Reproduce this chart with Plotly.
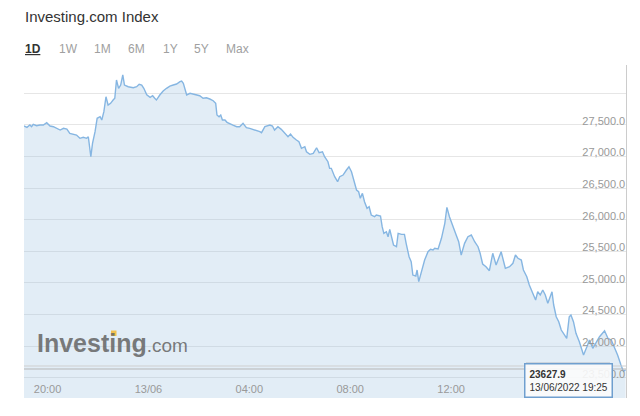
import pandas as pd
import plotly.graph_objects as go

# ---- data ----
times = [
    "12 19:04", "12 19:11", "12 19:18", "12 19:22", "12 19:26", "12 19:34", "12 19:42", "12 19:50",
    "12 19:58", "12 20:06", "12 20:14", "12 20:22", "12 20:30", "12 20:38", "12 20:46", "12 20:53",
    "12 21:01", "12 21:09", "12 21:17", "12 21:25", "12 21:33", "12 21:37", "12 21:43", "12 21:47",
    "12 21:53", "12 21:58", "12 22:05", "12 22:09", "12 22:14", "12 22:19", "12 22:24", "12 22:30",
    "12 22:36", "12 22:40", "12 22:44", "12 22:49", "12 22:54", "12 22:59", "12 23:03", "12 23:12",
    "12 23:24", "12 23:32", "12 23:38", "12 23:44", "12 23:49", "12 23:56",
    "13 00:04", "13 00:10", "13 00:15", "13 00:19", "13 00:27", "13 00:35", "13 00:43", "13 00:51",
    "13 00:59", "13 01:07", "13 01:15", "13 01:19", "13 01:23", "13 01:31", "13 01:39", "13 01:46",
    "13 01:54", "13 02:02", "13 02:10", "13 02:18", "13 02:26", "13 02:34", "13 02:40", "13 02:43",
    "13 02:48", "13 02:52", "13 02:56", "13 03:02", "13 03:07", "13 03:14", "13 03:21", "13 03:30",
    "13 03:37", "13 03:45", "13 03:53", "13 04:01", "13 04:09", "13 04:17", "13 04:25", "13 04:29",
    "13 04:37", "13 04:49", "13 04:55", "13 05:00", "13 05:08", "13 05:16", "13 05:24", "13 05:32",
    "13 05:38", "13 05:44", "13 05:52", "13 05:58", "13 06:04", "13 06:12", "13 06:16", "13 06:24",
    "13 06:32", "13 06:40", "13 06:46", "13 06:54", "13 06:59", "13 07:07", "13 07:11", "13 07:15",
    "13 07:23", "13 07:30", "13 07:35", "13 07:43", "13 07:51", "13 07:57", "13 08:03", "13 08:08",
    "13 08:15", "13 08:20", "13 08:24", "13 08:29", "13 08:34", "13 08:40", "13 08:45", "13 08:50",
    "13 08:58", "13 09:02", "13 09:08", "13 09:12", "13 09:16", "13 09:20", "13 09:26", "13 09:30",
    "13 09:34", "13 09:38", "13 09:43", "13 09:50", "13 09:54", "13 10:02", "13 10:09", "13 10:13",
    "13 10:20", "13 10:25", "13 10:29", "13 10:36", "13 10:39", "13 10:43", "13 10:49", "13 10:57",
    "13 11:05", "13 11:11", "13 11:17", "13 11:21", "13 11:29", "13 11:37", "13 11:45", "13 11:50",
    "13 11:56", "13 12:04", "13 12:12", "13 12:18", "13 12:24", "13 12:32", "13 12:40", "13 12:48",
    "13 12:56", "13 13:04", "13 13:09", "13 13:15", "13 13:23", "13 13:31", "13 13:39", "13 13:47",
    "13 13:53", "13 13:59", "13 14:09", "13 14:19", "13 14:27", "13 14:33", "13 14:39", "13 14:47",
    "13 14:52", "13 15:00", "13 15:06", "13 15:14", "13 15:21", "13 15:26", "13 15:32", "13 15:38",
    "13 15:44", "13 15:50", "13 15:56", "13 16:00", "13 16:04", "13 16:10", "13 16:16", "13 16:22",
    "13 16:30", "13 16:35", "13 16:41", "13 16:45", "13 16:51", "13 16:57", "13 17:05", "13 17:15",
    "13 17:23", "13 17:29", "13 17:37", "13 17:45", "13 17:53", "13 18:05", "13 18:13", "13 18:21",
    "13 18:28", "13 18:36", "13 18:44", "13 18:50", "13 18:55",
]
values = [
    27483, 27462, 27498, 27472, 27510, 27487, 27498, 27498,
    27535, 27483, 27472, 27446, 27419, 27446, 27435, 27367,
    27351, 27340, 27288, 27304, 27288, 27313, 26997, 27209,
    27393, 27605, 27630, 27578, 27709, 27946, 27815, 27842,
    27894, 27921, 28210, 28079, 28131, 28290, 28131, 28104,
    28089, 28104, 28142, 28131, 28079, 27975,
    27937, 27962, 27921, 27894, 27973, 28036, 28079, 28115,
    28131, 28147, 28184, 28195, 28158, 27975, 28000, 27989,
    27973, 27962, 27921, 27930, 27910, 27883, 27842, 27657,
    27630, 27657, 27578, 27578, 27541, 27525, 27498, 27472,
    27472, 27525, 27456, 27446, 27430, 27408, 27393, 27377,
    27472, 27498, 27483, 27419, 27472, 27430, 27367, 27313,
    27356, 27304, 27261, 27234, 27130, 27155, 27076, 27035,
    27051, 27139, 27060, 27076, 26997, 26918, 26813, 26813,
    26681, 26602, 26681, 26707, 26787, 26839, 26760, 26628,
    26470, 26443, 26339, 26418, 26285, 26181, 26206, 26075,
    26048, 26075, 26059, 26059, 25890, 25785, 25810, 25731,
    25848, 25731, 25600, 25573, 25785, 25769, 25769, 25627,
    25415, 25336, 25125, 25110, 25205, 25020, 25178, 25363,
    25494, 25532, 25521, 25548, 25537, 25706, 25943, 26196,
    26048, 25917, 25758, 25652, 25442, 25627, 25731, 25758,
    25652, 25573, 25469, 25300, 25257, 25194, 25469, 25284,
    25390, 25494, 25232, 25257, 25311, 25442, 25390, 25363,
    25205, 25099, 24967, 24836, 24730, 24861, 24809, 24888,
    24809, 24678, 24782, 24861, 24651, 24466, 24387, 24255,
    24176, 24124, 24466, 24493, 24387, 24203, 24070, 23860,
    23991, 24097, 23966, 24070, 24149, 24244, 24124, 24097,
    23991, 23860, 23702, 23600, 23628,
]
# 16:00 tick is hidden behind the value box in the reference
x_tickvals = ["2022-06-12 20:00", "2022-06-13 00:00", "2022-06-13 04:00",
              "2022-06-13 08:00", "2022-06-13 12:00"]
x_ticktext = ["20:00", "13/06", "04:00", "08:00", "12:00"]
y_tickvals = [23500, 24000, 24500, 25000, 25500, 26000, 26500, 27000, 27500, 28000]
y_ticktext = ["23,500.0", "24,000.0", "24,500.0", "25,000.0", "25,500.0",
              "26,000.0", "26,500.0", "27,000.0", "27,500.0", ""]
range_buttons = ["1D", "1W", "1M", "6M", "1Y", "5Y", "Max"]
title_text = "Investing.com Index"
last_value = "23627.9"
last_time = "13/06/2022 19:25"

x = pd.to_datetime(["2022-06-" + t for t in times])

FONT = "Liberation Sans, Arial, Helvetica, sans-serif"
PAGE_W, PAGE_H = 640, 416
OFF = 8  # default body margin of the html page
# plot area in page pixels
PL, PR, PT, PB = 24, 626, 65, 398
W, H = PAGE_W - OFF, PAGE_H - OFF
PW, PH = PR - PL, PB - PT


def px(xp):
    return (xp - PL) / PW


def py(yp):
    return (PB - yp) / PH


fig = go.Figure()
fig.add_trace(go.Scatter(
    x=x, y=values, mode="lines",
    line=dict(color="#86b6e2", width=1.4),
    fill="tozeroy", fillcolor="rgba(150,190,222,0.28)",
    hoverinfo="skip",
))

annotations = []
annotations.append(dict(
    text=title_text, xref="paper", yref="paper", x=px(23), y=py(17),
    xanchor="left", yanchor="middle", showarrow=False,
    font=dict(family=FONT, size=15, color="#333333"),
))
btn_x = [23, 57, 92, 126, 161, 192, 224]
for i, (lbl, bx) in enumerate(zip(range_buttons, btn_x)):
    if i == 0:
        txt = "<b><u>" + lbl + "</u></b>"
        col = "#333333"
    else:
        txt = lbl
        col = "#a0a0a0"
    annotations.append(dict(
        text=txt, xref="paper", yref="paper", x=px(bx), y=py(49),
        xanchor="left", yanchor="middle", showarrow=False,
        font=dict(family=FONT, size=12, color=col),
    ))
# watermark logo
annotations.append(dict(
    text="<b>Investing</b><span style='font-size:19px'>.com</span>",
    xref="paper", yref="paper", x=px(35), y=py(343),
    xanchor="left", yanchor="middle", showarrow=False,
    font=dict(family=FONT, size=25, color="rgba(100,100,100,0.85)"),
))
# value box
annotations.append(dict(
    text="<b>" + last_value + "</b><br>" + last_time,
    xref="paper", yref="paper", x=px(524), y=py(397.5),
    xanchor="left", yanchor="bottom", showarrow=False, align="left",
    font=dict(family=FONT, size=10, color="#333333"),
    bgcolor="rgba(255,255,255,0.88)", bordercolor="#6f9fcf", borderwidth=1.5,
    borderpad=4,
))

shapes = [
    dict(type="line", xref="paper", yref="paper", x0=0, x1=1, y0=py(366), y1=py(366),
         line=dict(color="#cfcfcf", width=1)),
    dict(type="line", xref="paper", yref="paper", x0=0, x1=1, y0=py(369), y1=py(369),
         line=dict(color="#b5b5b5", width=1)),
    # soft shadow of the value box
    dict(type="rect", xref="paper", yref="paper", x0=px(526), x1=px(610),
         y0=py(397.5), y1=py(362), line=dict(width=0), fillcolor="rgba(0,0,0,0.10)"),
    # yellow dot of the logo
    dict(type="rect", xref="paper", yref="paper", x0=px(111), x1=px(116.5),
         y0=py(336), y1=py(330.5), line=dict(width=0), fillcolor="#f2c14e"),
]

fig.update_layout(
    width=W, height=H,
    margin=dict(l=PL - OFF, r=PAGE_W - PR, t=PT - OFF, b=PAGE_H - PB),
    paper_bgcolor="white", plot_bgcolor="white",
    showlegend=False,
    annotations=annotations, shapes=shapes,
    font=dict(family=FONT),
    hovermode=False,
)
fig.update_xaxes(
    range=["2022-06-12 19:04", "2022-06-13 18:56"],
    tickvals=x_tickvals, ticktext=x_ticktext,
    ticklabelposition="inside", ticks="",
    showgrid=False, showline=False, zeroline=False,
    tickfont=dict(family=FONT, size=11, color="#999999"),
)
fig.update_yaxes(
    range=[23180, 28448], side="right",
    tickvals=y_tickvals, ticktext=y_ticktext,
    ticklabelposition="inside", ticks="", ticklabelshift=-4, ticklabelstandoff=0,
    showgrid=True, gridcolor="#e6e6e6", gridwidth=1,
    showline=True, linecolor="#cccccc", linewidth=1,
    zeroline=False,
    tickfont=dict(family=FONT, size=11, color="#999999"),
)

fig.write_html("out.html")
